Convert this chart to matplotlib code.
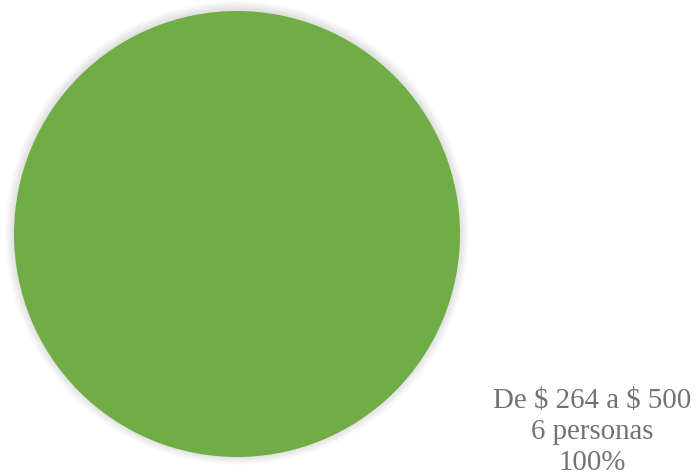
import matplotlib.pyplot as plt
from matplotlib.patches import Circle

# Income bracket distribution
categories = ["De $ 264 a $ 500"]
personas = [6]
porcentajes = [100]

fig = plt.figure(figsize=(6.96, 4.77), dpi=100)
ax = fig.add_axes([0, 0, 1, 1])

cx, cy, r = 237, 235, 223

# soft halo behind the pie
for i in range(10, 0, -1):
    ax.add_patch(Circle((cx, cy - 1), r + i * 0.9, color="black",
                        alpha=0.012, lw=0, zorder=0))

ax.pie(personas, colors=["#70AD47"], center=(cx, cy), radius=r,
       startangle=90, wedgeprops=dict(linewidth=0))

ax.set_xlim(0, 696)
ax.set_ylim(477, 0)
ax.set_aspect("equal")
ax.axis("off")

label = f"{categories[0]}\n{personas[0]} personas\n{porcentajes[0]}%"
ax.text(592, 432, label, ha="center", va="center", fontsize=20.8,
        family="Liberation Serif", color="#767171", linespacing=1.27,
        parse_math=False)

fig.savefig("out.png", dpi=100)
